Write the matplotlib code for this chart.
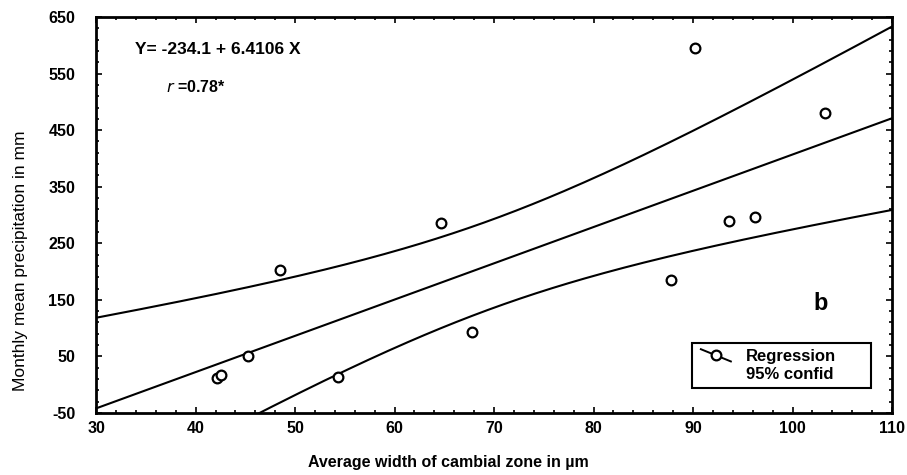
import numpy as np
import matplotlib.pyplot as plt
from matplotlib.lines import Line2D
from matplotlib.legend_handler import HandlerBase

plt.rcParams['font.family'] = ['Liberation Sans', 'DejaVu Sans']
plt.rcParams['axes.unicode_minus'] = False

# average width of cambial zone (um) vs monthly mean precipitation (mm)
width_um = [42.1, 42.5, 45.3, 48.5, 54.3, 64.7, 67.8, 87.8, 90.2, 93.6, 96.2, 103.3]
precip_mm = [12, 17, 50, 202, 14, 286, 93, 186, 595, 289, 297, 481]

intercept = -234.1
slope = 6.4106

x = np.array(width_um)
y = np.array(precip_mm)
n = len(x)

# 95% confidence band around the fitted line
xs = np.linspace(30, 110, 200)
fit = intercept + slope * xs
resid = y - (intercept + slope * x)
s = np.sqrt(np.sum(resid ** 2) / (n - 2))
sxx = np.sum((x - x.mean()) ** 2)
t = 2.228  # t(0.975, df=10)
half = t * s * np.sqrt(1.0 / n + (xs - x.mean()) ** 2 / sxx)


class DiagonalHandler(HandlerBase):
    # slanted line with an open circle in the middle
    def create_artists(self, legend, orig_handle, xdescent, ydescent,
                       width, height, fontsize, trans):
        x0, x1 = -xdescent + 0.1 * width, -xdescent + 1.1 * width
        y0, y1 = -ydescent + height * 1.0, -ydescent - height * 0.05
        line = Line2D([x0, x1], [y0, y1], color='black', lw=1.4, transform=trans)
        mark = Line2D([(x0 + x1) / 2], [(y0 + y1) / 2], marker='o', mfc='white',
                      mec='black', mew=1.6, ms=7, transform=trans)
        return [line, mark]


fig = plt.figure(figsize=(9.07, 4.75), dpi=100)
ax = fig.add_axes([0.106, 0.1305, 0.8775, 0.8337])

ax.plot(xs, fit, color='black', lw=1.5)
ax.plot(xs, fit + half, color='black', lw=1.5)
ax.plot(xs, fit - half, color='black', lw=1.5)
ax.plot(x, y, 'o', mfc='white', mec='black', mew=1.6, ms=7, zorder=3)

ax.set_xlim(30, 110)
ax.set_ylim(-50, 650)
ax.set_xticks(np.arange(30, 111, 10))
ax.set_xticks(np.arange(30, 111, 2), minor=True)
ax.set_yticks(np.arange(-50, 651, 100))
ax.set_yticks(np.arange(-50, 651, 20), minor=True)
ax.tick_params(which='both', direction='in', top=True, right=True, width=1.2)
ax.tick_params(which='major', length=4, labelsize=11.5)
ax.tick_params(which='minor', length=2.5)
ax.tick_params(axis='x', pad=6)
ax.tick_params(axis='y', pad=15)
for lab in ax.get_xticklabels() + ax.get_yticklabels():
    lab.set_fontweight('bold')
for sp in ax.spines.values():
    sp.set_linewidth(2)

ax.set_xlabel('Average width of cambial zone in µm', fontsize=11.5, fontweight='bold')
ax.xaxis.set_label_coords(0.442, -0.106)
ax.set_ylabel('Monthly mean precipitation in mm', fontsize=12.5)
ax.yaxis.set_label_coords(-0.085, 0.384)

ax.text(0.049, 0.917, 'Y= -234.1 + 6.4106 X', transform=ax.transAxes,
        fontsize=12.5, fontweight='bold', va='center')
ax.text(0.088, 0.823, r'$\mathbf{\mathit{r}}$ =0.78*', transform=ax.transAxes,
        fontsize=11.5, fontweight='bold', va='center')
ax.text(102.8, 143, 'b', fontsize=17, fontweight='bold', ha='center', va='center')

handles = [Line2D([], [], color='black'), Line2D([], [], color='none')]
leg = ax.legend(handles, ['Regression', '95% confid'],
                handler_map={handles[0]: DiagonalHandler()},
                loc='lower left', mode='expand',
                bbox_to_anchor=(0.7487, 0.0631, 0.2249, 0.1288),
                borderaxespad=0, prop={'weight': 'bold', 'size': 12},
                frameon=True, fancybox=False, edgecolor='black', framealpha=1,
                handlelength=1.8, handletextpad=1.1, borderpad=0.35, labelspacing=0.2)
leg.get_frame().set_linewidth(1.5)

fig.savefig('out.png', dpi=100)
